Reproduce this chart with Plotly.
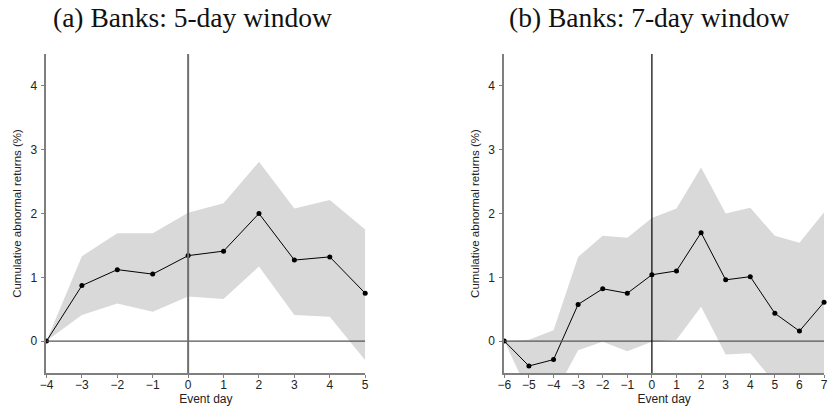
import plotly.graph_objects as go

# Panel (a): 5-day window
days_a = [-4, -3, -2, -1, 0, 1, 2, 3, 4, 5]
car_a = [0.0, 0.87, 1.12, 1.05, 1.34, 1.41, 2.00, 1.27, 1.32, 0.75]
upper_a = [0.0, 1.33, 1.69, 1.69, 2.01, 2.16, 2.81, 2.08, 2.21, 1.75]
lower_a = [0.0, 0.41, 0.59, 0.46, 0.70, 0.66, 1.17, 0.41, 0.38, -0.30]

# Panel (b): 7-day window
days_b = [-6, -5, -4, -3, -2, -1, 0, 1, 2, 3, 4, 5, 6, 7]
car_b = [0.0, -0.39, -0.29, 0.575, 0.82, 0.75, 1.04, 1.10, 1.70, 0.96, 1.01, 0.435, 0.157, 0.61]
upper_b = [0.0, 0.02, 0.17, 1.32, 1.65, 1.62, 1.93, 2.08, 2.72, 2.00, 2.09, 1.65, 1.54, 2.02]
lower_b = [0.0, -0.82, -0.86, -0.145, -0.01, -0.16, -0.01, 0.02, 0.54, -0.21, -0.19, -0.66, -0.90, -0.85]

titles = ["(a) Banks: 5-day window", "(b) Banks: 7-day window"]
y_ticks = [0, 1, 2, 3, 4]
y_range = [-0.5, 4.5]

W, H = 832, 412
band_color = "#d9d9d9"
axis_gray = "#7f7f7f"
sans = "Liberation Sans, Arial, sans-serif"

fig = go.Figure()

panels = [
    ("x", "y", days_a, car_a, upper_a, lower_a),
    ("x2", "y2", days_b, car_b, upper_b, lower_b),
]

for xa, ya, d, c, up, lo in panels:
    fig.add_trace(go.Scatter(x=d, y=lo, mode="lines", line=dict(width=0, color=band_color),
                             xaxis=xa, yaxis=ya, showlegend=False, hoverinfo="skip"))
    fig.add_trace(go.Scatter(x=d, y=up, mode="lines", line=dict(width=0, color=band_color),
                             fill="tonexty", fillcolor=band_color,
                             xaxis=xa, yaxis=ya, showlegend=False, hoverinfo="skip"))
    fig.add_trace(go.Scatter(x=d, y=c, mode="lines+markers",
                             line=dict(color="black", width=1),
                             marker=dict(color="black", size=5),
                             xaxis=xa, yaxis=ya, showlegend=False, cliponaxis=False))

# pixel-based domains
def px_x(a, b):
    return [a / W, b / W]

def px_y(top, bottom):
    return [(H - bottom) / H, (H - top) / H]

common_axis = dict(showline=True, linecolor=axis_gray, linewidth=2, ticks="outside",
                   ticklen=3, tickwidth=1, tickcolor=axis_gray, showgrid=False, zeroline=False,
                   tickfont=dict(family=sans, size=12, color="#222"))

def x_axis(domain, d, anchor):
    return dict(domain=domain, range=[d[0], d[-1]], tickmode="array", tickvals=d, anchor=anchor,
                ticklabelstandoff=-3,
                title=dict(text="Event day", standoff=0, font=dict(family=sans, size=12, color="#222")),
                **common_axis)

def y_axis(anchor):
    return dict(domain=px_y(54, 373), range=y_range, tickmode="array", tickvals=y_ticks, anchor=anchor,
                ticklabelstandoff=2,
                title=dict(text="Cumulative abnormal returns (%)", standoff=6,
                           font=dict(family=sans, size=11.5, color="#222")),
                **common_axis)

fig.update_layout(
    width=W, height=H, margin=dict(l=0, r=0, t=0, b=0),
    paper_bgcolor="white", plot_bgcolor="white",
    xaxis=x_axis(px_x(40, 363), days_a, "y"),
    yaxis=y_axis("x"),
    xaxis2=x_axis(px_x(504, 828), days_b, "y2"),
    yaxis2=y_axis("x2"),
)

# zero reference lines
for xa, ya, d, vcol, vw in [("x", "y", days_a, "#6f6f6f", 2), ("x2", "y2", days_b, "black", 1.2)]:
    fig.add_shape(type="line", xref=xa, yref=ya, x0=d[0], x1=d[-1], y0=0, y1=0,
                  line=dict(color="#555555", width=1.3), layer="above")
    fig.add_shape(type="line", xref=xa, yref=ya, x0=0, x1=0, y0=y_range[0], y1=y_range[1],
                  line=dict(color=vcol, width=vw), layer="above")

# panel titles
for title, cx in zip(titles, [188, 651]):
    fig.add_annotation(text=title, x=cx / W, y=1 - 18 / H, xref="paper", yref="paper",
                       xanchor="center", yanchor="middle", showarrow=False,
                       font=dict(family="Liberation Serif, Times New Roman, serif", size=27.5, color="#111"))

fig.write_html("out.html")
